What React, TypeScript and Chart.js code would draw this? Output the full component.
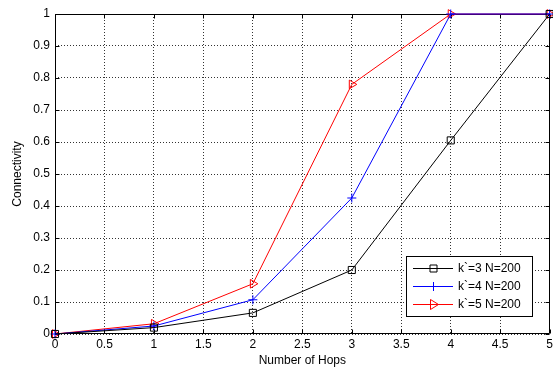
import React, { useEffect, useRef } from "react";
import { Chart, registerables } from "chart.js";

Chart.register(...registerables);

const hops = [0, 1, 2, 3, 4, 5];
const k3 = [0, 0.02, 0.066, 0.2, 0.605, 1];
const k4 = [0, 0.025, 0.107, 0.425, 1, 1];
const k5 = [0, 0.032, 0.157, 0.78, 1, 1];
const seriesLabels = ["k`=3 N=200", "k`=4 N=200", "k`=5 N=200"];
const seriesColors = ["#000000", "#0000ff", "#ff0000"];
const xTitle = "Number of Hops";
const yTitle = "Connectivity";

const FONT = "'Liberation Sans', Arial, sans-serif";

function drawMarker(ctx: CanvasRenderingContext2D, i: number, x: number, y: number) {
  ctx.save();
  ctx.strokeStyle = seriesColors[i];
  ctx.lineWidth = 1;
  ctx.beginPath();
  if (i === 0) {
    ctx.rect(x - 3.5, y - 3.5, 7, 7);
  } else if (i === 1) {
    ctx.moveTo(x - 4, y);
    ctx.lineTo(x + 4, y);
    ctx.moveTo(x, y - 4.5);
    ctx.lineTo(x, y + 4.5);
  } else {
    ctx.moveTo(x + 5, y);
    ctx.lineTo(x - 3, y - 5);
    ctx.lineTo(x - 3, y + 5);
    ctx.closePath();
  }
  ctx.stroke();
  ctx.restore();
}

const framePlugin = {
  id: "frame",
  beforeDatasetsDraw(chart: any) {
    const { ctx, chartArea: a, scales } = chart;
    ctx.save();
    ctx.strokeStyle = "#000";
    ctx.lineWidth = 1;
    ctx.beginPath();
    const L = Math.round(a.left) + 0.5;
    const R = Math.round(a.right) - 0.5;
    const T = Math.round(a.top) + 0.5;
    const B = Math.round(a.bottom) - 0.5;
    ctx.rect(L, T, R - L, B - T);
    const tl = 4;
    scales.x.ticks.forEach((t: any) => {
      const px = Math.round(scales.x.getPixelForValue(t.value)) + 0.5;
      ctx.moveTo(px, B);
      ctx.lineTo(px, B - tl);
      ctx.moveTo(px, T);
      ctx.lineTo(px, T + tl);
    });
    scales.y.ticks.forEach((t: any) => {
      const py = Math.round(scales.y.getPixelForValue(t.value)) + 0.5;
      ctx.moveTo(L, py);
      ctx.lineTo(L + tl, py);
      ctx.moveTo(R, py);
      ctx.lineTo(R - tl, py);
    });
    ctx.stroke();
    ctx.restore();
  },
  afterDraw(chart: any) {
    const { ctx, chartArea: a } = chart;
    ctx.save();
    ctx.fillStyle = "#000";
    ctx.font = `12px ${FONT}`;
    ctx.textAlign = "center";
    ctx.textBaseline = "middle";
    ctx.fillText(xTitle, (a.left + a.right) / 2, 361);
    ctx.translate(18, (a.top + a.bottom) / 2);
    ctx.rotate(-Math.PI / 2);
    ctx.fillText(yTitle, 0, 0);
    ctx.restore();

    // legend
    ctx.save();
    const bx = 406.5, by = 256.5, bw = 126, bh = 60;
    ctx.fillStyle = "#fff";
    ctx.fillRect(bx, by, bw, bh);
    ctx.strokeStyle = "#000";
    ctx.lineWidth = 1;
    ctx.strokeRect(bx, by, bw, bh);
    const rows = [268, 286, 304];
    ctx.font = `12px ${FONT}`;
    ctx.textBaseline = "middle";
    ctx.textAlign = "left";
    rows.forEach((ry, i) => {
      ctx.strokeStyle = seriesColors[i];
      ctx.beginPath();
      ctx.moveTo(413, ry + 0.5);
      ctx.lineTo(453, ry + 0.5);
      ctx.stroke();
      drawMarker(ctx, i, 433.5, ry + 0.5);
      ctx.fillStyle = "#000";
      ctx.fillText(seriesLabels[i], 458, ry + 1);
    });
    ctx.restore();
  },
};

export default function App() {
  const ref = useRef<HTMLCanvasElement>(null);
  useEffect(() => {
    if (!ref.current) return;
    const mk = (vals: number[]) => vals.map((v, i) => ({ x: hops[i], y: v }));
    const styles: any[] = [
      { pointStyle: "rect", pointRadius: 5 },
      { pointStyle: "cross", pointRadius: 4.5 },
      { pointStyle: "triangle", pointRadius: 5, pointRotation: 90 },
    ];
    const chart = new Chart(ref.current, {
      type: "line",
      data: {
        datasets: [k3, k4, k5].map((vals, i) => ({
          label: seriesLabels[i],
          data: mk(vals),
          borderColor: seriesColors[i],
          pointBorderColor: seriesColors[i],
          backgroundColor: "transparent",
          pointBackgroundColor: "transparent",
          borderWidth: 1,
          pointBorderWidth: 1,
          tension: 0,
          fill: false,
          clip: false as any,
          ...styles[i],
        })),
      },
      options: {
        animation: false,
        responsive: false,
        devicePixelRatio: 1,
        layout: { padding: { left: 0, right: 2, top: 14, bottom: 0 } },
        plugins: { legend: { display: false }, tooltip: { enabled: false } },
        scales: {
          x: {
            type: "linear",
            min: 0,
            max: 5,
            ticks: {
              stepSize: 0.5,
              color: "#000",
              font: { family: FONT, size: 12 },
              padding: 3,
              maxRotation: 0,
              callback: (v: any) => String(Number(Number(v).toFixed(1))),
            },
            grid: { color: "#333", drawTicks: false, tickLength: 0 } as any,
            border: { display: false, dash: [1, 2] } as any,
            afterFit: (s: any) => { s.height = 35; },
          },
          y: {
            type: "linear",
            min: 0,
            max: 1,
            ticks: {
              stepSize: 0.1,
              color: "#000",
              font: { family: FONT, size: 12 },
              padding: 5,
              callback: (v: any) => String(Number(Number(v).toFixed(1))),
            },
            grid: { color: "#333", drawTicks: false, tickLength: 0 } as any,
            border: { display: false, dash: [1, 2] } as any,
            afterFit: (s: any) => { s.width = 55; },
          },
        },
      } as any,
      plugins: [framePlugin],
    });
    return () => chart.destroy();
  }, []);
  return (
    <div style={{ position: "fixed", left: 0, top: 0, width: 553, height: 369, background: "#fff", overflow: "hidden" }}>
      <canvas ref={ref} width={556} height={369} style={{ display: "block" }} />
    </div>
  );
}
